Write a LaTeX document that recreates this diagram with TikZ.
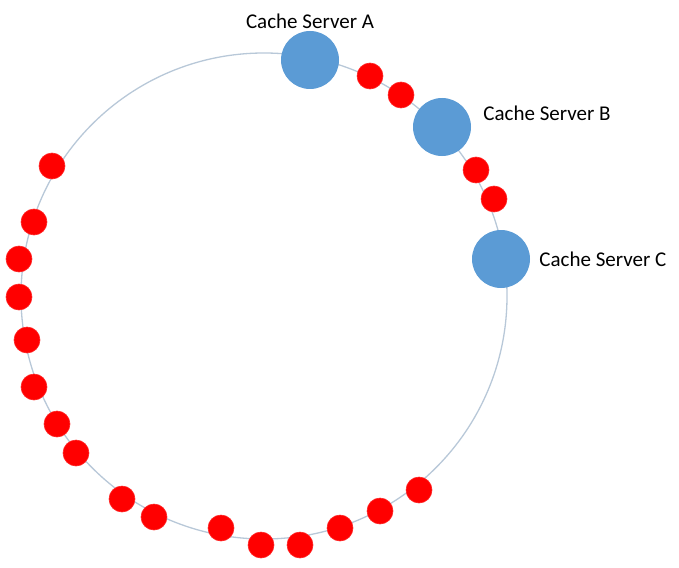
\documentclass[tikz,border=0pt]{standalone}
\usepackage{fontspec}
\setmainfont{Carlito}
\usetikzlibrary{positioning}

\definecolor{ringgray}{HTML}{B8C8D8}
\definecolor{serverblue}{HTML}{5B9BD5}

\tikzset{
  server/.style={circle,fill=serverblue,inner sep=0pt,minimum size=58pt},
  key/.style={circle,fill=red,draw=red!85!white,line width=0.6pt,inner sep=0pt,minimum size=26pt},
  tag/.style={inner sep=0pt,font=\fontsize{21}{24}\selectfont}
}

\begin{document}
\begin{tikzpicture}[x=1pt,y=-1pt]

      \useasboundingbox (0,0) rectangle (679,567);

      \coordinate (ring) at (264,296);
      \draw[ringgray,line width=1.3pt] (ring) circle[radius=243pt];

      \begin{scope}[every node/.style={server}]
        \node (A) at (310,60)  {};
        \node (B) at (442,127) {};
        \node (C) at (501,259) {};
      \end{scope}

      \begin{scope}[every node/.style={key}]
        \node (k1)  at (370,76)  {};
        \node (k2)  at (401,95)  {};
        \node (k3)  at (476,170) {};
        \node (k4)  at (494,199) {};
        \node (k5)  at (52,166)  {};
        \node (k6)  at (34,222)  {};
        \node (k7)  at (19,259)  {};
        \node (k8)  at (19,297)  {};
        \node (k9)  at (27,340)  {};
        \node (k10) at (34,387)  {};
        \node (k11) at (57,424)  {};
        \node (k12) at (76,453)  {};
        \node (k13) at (122,499) {};
        \node (k14) at (154,517) {};
        \node (k15) at (221,528) {};
        \node (k16) at (261,545) {};
        \node (k17) at (300,545) {};
        \node (k18) at (340,528) {};
        \node (k19) at (380,511) {};
        \node (k20) at (419,490) {};
      \end{scope}

      \node[tag, above=2pt of A]             (labA) {Cache Server A};
      \node[tag, right=12pt of B, yshift=14pt] (labB) {Cache Server B};
      \node[tag, right=9pt of C]             (labC) {Cache Server C};

    \end{tikzpicture}
\end{document}
